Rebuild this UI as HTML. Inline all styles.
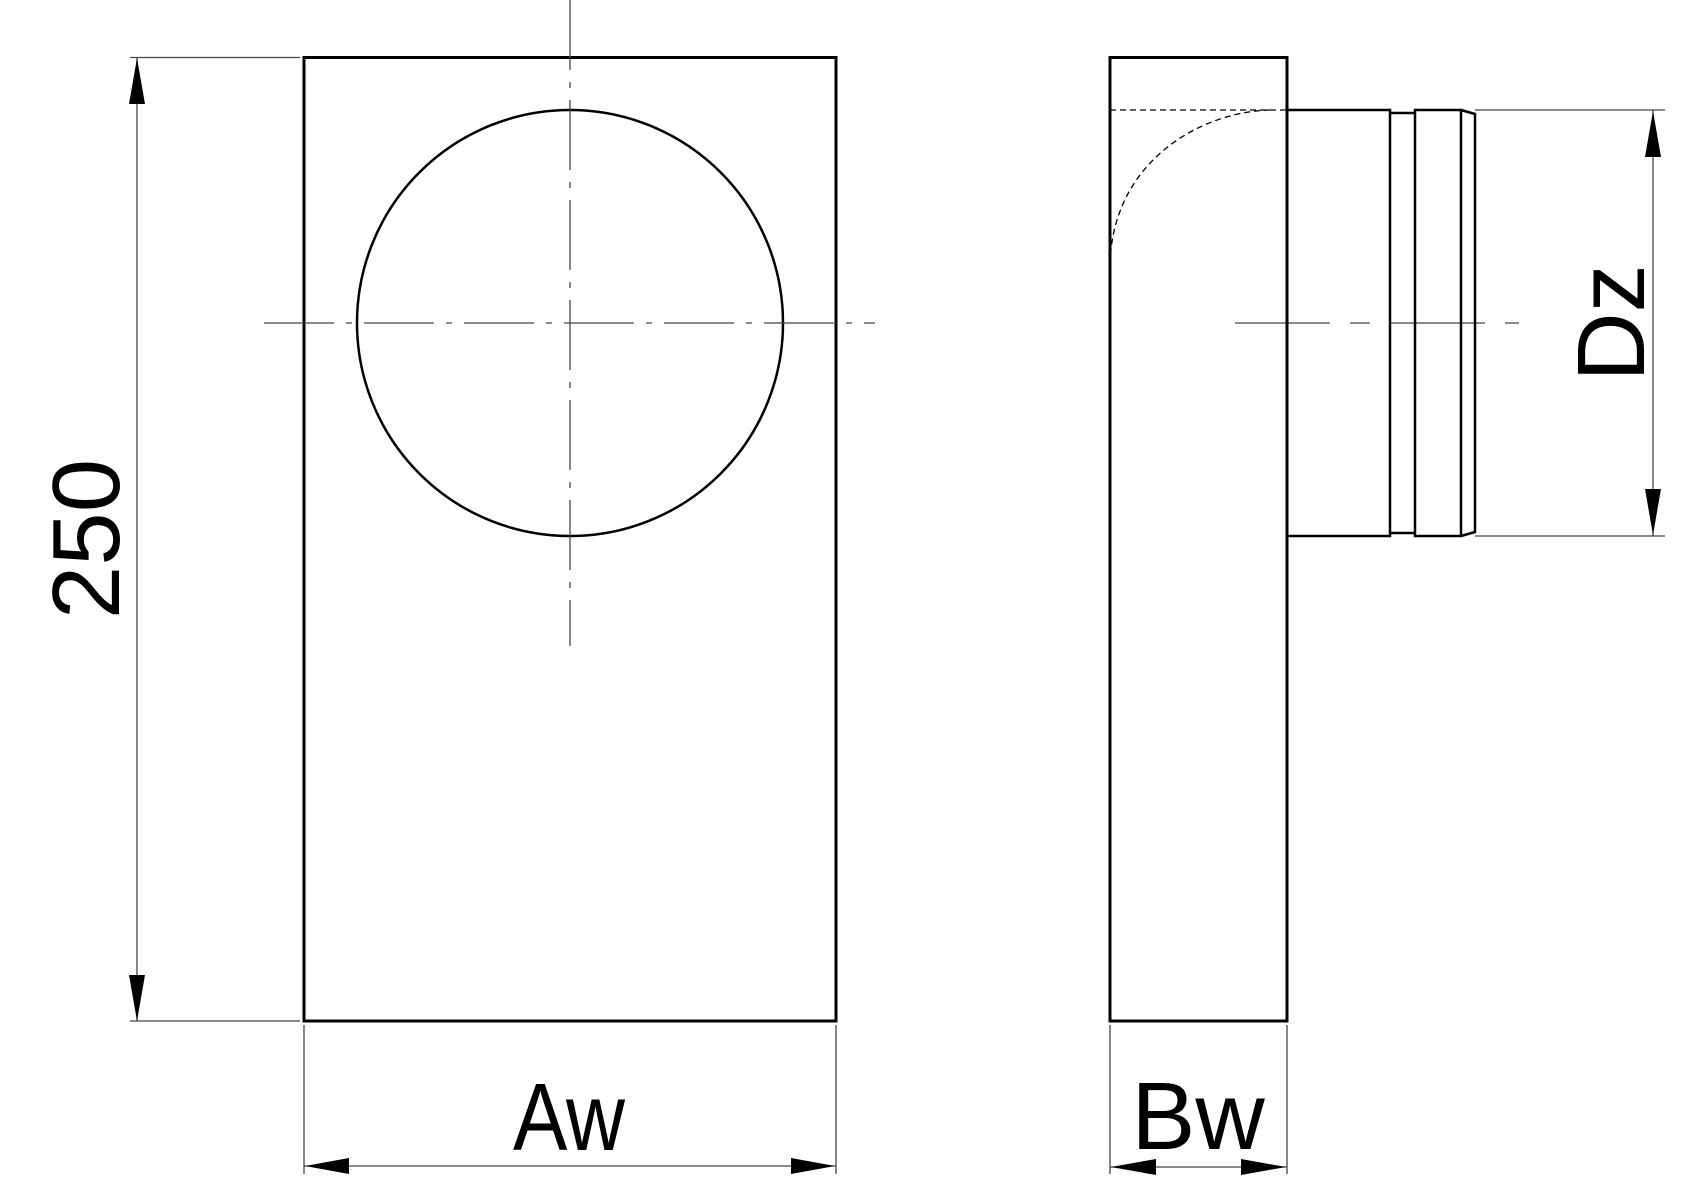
<!DOCTYPE html>
<html><head><meta charset="utf-8"><style>html,body{margin:0;padding:0;background:#fff}svg{display:block}</style></head>
<body>
<svg width="1688" height="1200" viewBox="0 0 1688 1200" xmlns="http://www.w3.org/2000/svg">
<g fill="none" stroke="#000">
<!-- front view -->
<rect x="304" y="57.5" width="532" height="963.5" stroke-width="3"/>
<circle cx="570" cy="323" r="213" stroke-width="2.5"/>
<g stroke="#444" stroke-width="1.3">
<line x1="570" y1="0" x2="570" y2="646" stroke-dasharray="70,12,6,12"/>
<line x1="264" y1="323" x2="875" y2="323" stroke-dasharray="70,12,6,12"/>
<!-- 250 dim -->
<line x1="130" y1="57.5" x2="300" y2="57.5"/>
<line x1="130" y1="1021" x2="300" y2="1021"/>
<line x1="137" y1="57" x2="137" y2="1021"/>
<!-- Aw dim -->
<line x1="304" y1="1025" x2="304" y2="1174"/>
<line x1="836" y1="1025" x2="836" y2="1174"/>
<line x1="304" y1="1166" x2="836" y2="1166"/>
<!-- side -->
<line x1="1110" y1="1025" x2="1110" y2="1174"/>
<line x1="1287" y1="1025" x2="1287" y2="1174"/>
<line x1="1110" y1="1167" x2="1287" y2="1167"/>
<line x1="1475" y1="110" x2="1665" y2="110"/>
<line x1="1475" y1="536" x2="1665" y2="536"/>
<line x1="1653" y1="110" x2="1653" y2="536"/>
<line x1="1235" y1="323" x2="1519" y2="323" stroke-dasharray="95,20,20,20"/>
</g>
<!-- side view -->
<rect x="1110" y="57.5" width="177" height="963.5" stroke-width="3"/>
<line x1="1110" y1="110" x2="1287" y2="110" stroke-width="1.3" stroke-dasharray="6,4"/>
<path d="M1270 110 C1200 112 1120 160 1111 250" stroke-width="1.3" stroke-dasharray="6,4"/>
<g stroke-width="2.5">
<path d="M1287 110 H1390 V536 H1287"/>
<path d="M1390 113 H1415 M1390 533 H1415"/>
<rect x="1415" y="110" width="46" height="426"/>
<path d="M1461 110 L1475 114 V532 L1461 536"/>
</g>
</g>
<g fill="#000">
<polygon points="137,58 129,104 145,104"/>
<polygon points="137,1021 129,975 145,975"/>
<polygon points="305,1166 349,1158 349,1174"/>
<polygon points="835,1166 791,1158 791,1174"/>
<polygon points="1111,1167 1156,1159 1156,1175"/>
<polygon points="1286,1167 1241,1159 1241,1175"/>
<polygon points="1653,111 1645,157 1661,157"/>
<polygon points="1653,535 1645,489 1661,489"/>
</g>
<g font-family="Liberation Sans, sans-serif" font-size="96" fill="#000" text-anchor="middle">
<text transform="translate(119,539) rotate(-90)">250</text>
<text x="569" y="1150" transform="translate(569,0) scale(0.85,1) translate(-569,0)">Aw</text>
<text x="1198" y="1149">Bw</text>
<text transform="translate(1644,323) rotate(-90)">Dz</text>
</g>
</svg>
</body></html>
